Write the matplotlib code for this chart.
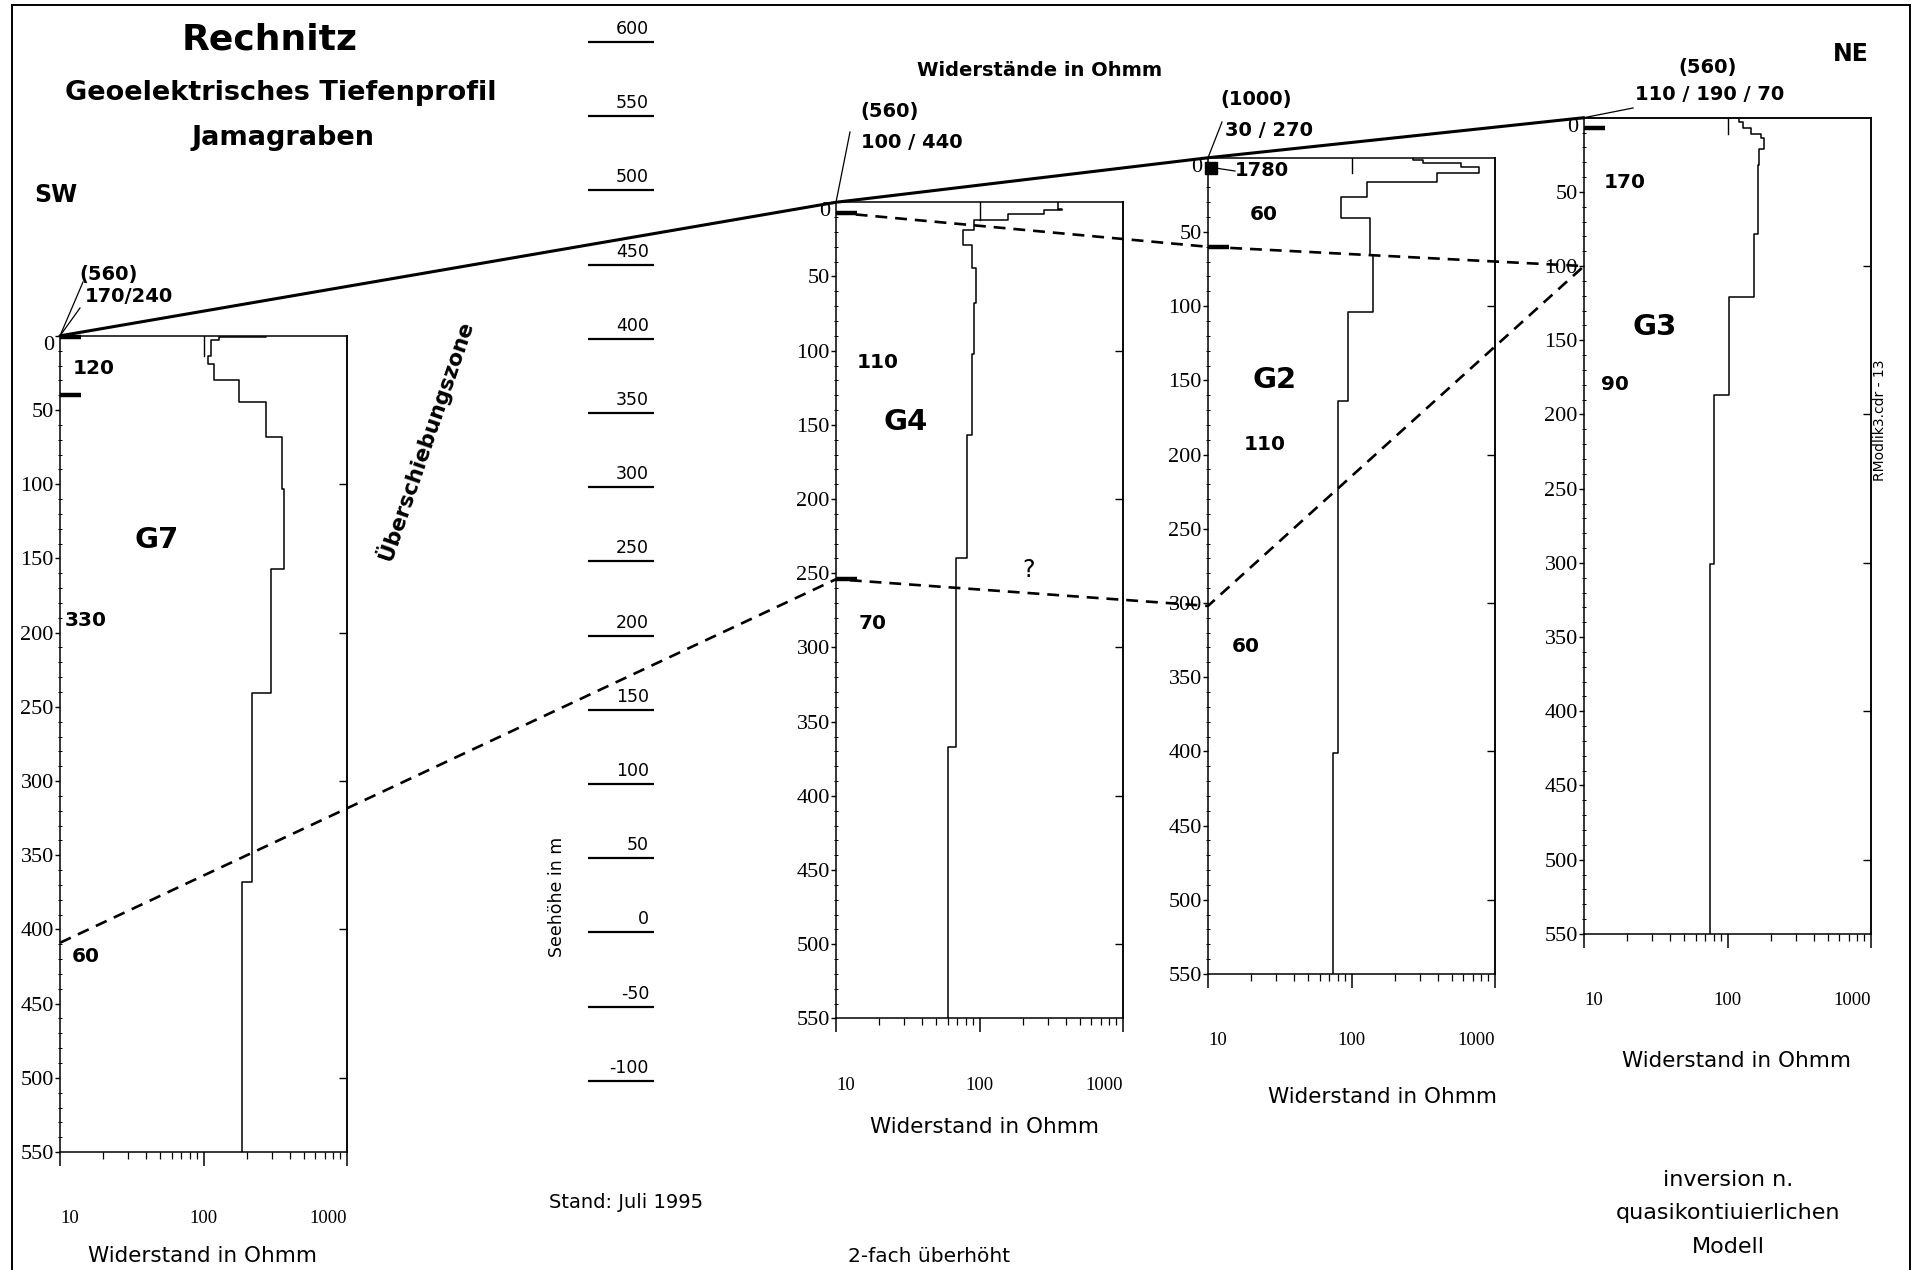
import numpy as np
import matplotlib
matplotlib.use("Agg")
import matplotlib.pyplot as plt
from matplotlib.ticker import LogLocator, MultipleLocator, NullFormatter, FixedLocator
from matplotlib.patches import Rectangle

plt.rcParams['font.family'] = ['DejaVu Sans']

stations = ['G7', 'G4', 'G2', 'G3']
station_elev = [402, 492, 522, 549]          # Seehöhe of sounding point (m)

# layer interfaces (depth m) and resistivities (Ohmm) per sounding
g7_bounds = [1, 3, 13.5, 19, 30, 44.5, 68, 103, 157, 241, 368]
g7_res = [274, 129, 112, 108, 119, 178, 274, 354, 365, 297, 219, 184]
g4_bounds = [4.3, 5.4, 7.6, 12.2, 19, 28.6, 44, 68, 102, 157, 240, 367]
g4_res = [351, 375, 280, 157, 91, 77, 89, 94, 91, 89, 82, 69, 60]
g2_bounds = [1.4, 3.4, 6.1, 10.2, 16.3, 26.5, 40.8, 65.3, 104, 164, 401]
g2_res = [270, 314, 578, 773, 393, 129, 85, 134, 142, 94, 81, 74]
g3_bounds = [2.7, 6.7, 10.7, 13.4, 21, 32, 78.5, 121, 187, 301]
g3_res = [121, 129, 145, 170, 179, 165, 162, 154, 102, 81, 76]

bounds_all = [g7_bounds, g4_bounds, g2_bounds, g3_bounds]
res_all = [g7_res, g4_res, g2_res, g3_res]
start_mark = [13.5, 12, 10, 11]               # short vertical at 100 Ohmm
bar_depths = [[0.5, 40], [7, 254], [60], [7]]  # marked layer boundaries

# correlation lines (depth below each station)
upper_st = [1, 2, 3]
upper_depth = [7, 60, 100]
lower_st = [0, 1, 2, 3]
lower_depth = [409, 254, 302, 100]

scale_elev = [600, 550, 500, 450, 400, 350, 300, 250, 200, 150, 100, 50, 0, -50, -100]

head_top = ['(560)', '(560)', '(1000)', '(560)']
head_bot = ['170/240', '100 / 440', '30 / 270', '110 / 190 / 70']

# ---- layout ----
W, H = 1917, 1270
PX_PER_M = 1.484
ELEV_TOP = 600 + 42 / PX_PER_M
DEPTH_MAX = 550
panel_left = [60, 836, 1208, 1584]
PANEL_W = 287


def y2e(y):
    return ELEV_TOP - y / PX_PER_M


fig = plt.figure(figsize=(W / 100, H / 100), dpi=100)
bg = fig.add_axes([0, 0, 1, 1])
bg.set_xlim(0, W)
bg.set_ylim(y2e(H), ELEV_TOP)
bg.axis('off')

fig.add_artist(Rectangle((12 / W, -0.01), (1910 - 12) / W, 1.01 - 5 / H,
                         transform=fig.transFigure, fill=False, lw=1.4, color='k'))

tickfont = 'Liberation Serif'
panels = []
for i, name in enumerate(stations):
    top_px = (ELEV_TOP - station_elev[i]) * PX_PER_M
    h_px = DEPTH_MAX * PX_PER_M
    ax = fig.add_axes([panel_left[i] / W, 1 - (top_px + h_px) / H, PANEL_W / W, h_px / H])
    ax.set_xscale('log')
    ax.set_xlim(10, 1000)
    ax.set_ylim(DEPTH_MAX, 0)
    ax.patch.set_alpha(0)

    b = np.array(bounds_all[i])
    tops = np.r_[0, b]
    bots = np.r_[b, DEPTH_MAX]
    d = np.column_stack([tops, bots]).ravel()
    r = np.repeat(res_all[i], 2)
    ax.plot(r, d, color='k', lw=1.1)
    ax.plot([100, 100], [0, start_mark[i]], color='k', lw=1.0)
    for bd in bar_depths[i]:
        ax.plot([10, 14], [bd, bd], color='k', lw=3.2, solid_capstyle='butt', clip_on=False)

    for s in ax.spines.values():
        s.set_linewidth(1.1)
    ax.xaxis.set_major_locator(FixedLocator([10, 100, 1000]))
    ax.xaxis.set_minor_locator(LogLocator(subs=range(2, 10)))
    ax.xaxis.set_minor_formatter(NullFormatter())
    ax.set_xticklabels(['10', '100', '1000'], family=tickfont, fontsize=13.5)
    xl = ax.get_xticklabels()
    xl[0].set_ha('left')
    xl[2].set_ha('right')
    ax.tick_params(axis='x', which='major', direction='out', length=10, width=1.1, pad=32)
    ax.tick_params(axis='x', which='minor', direction='out', length=5, width=0.9)
    ax.yaxis.set_major_locator(MultipleLocator(50))
    ax.yaxis.set_minor_locator(MultipleLocator(10))
    ax.set_yticks(np.arange(0, 551, 50))
    ax.set_yticklabels([str(v) for v in range(0, 551, 50)], family=tickfont, fontsize=16)
    ax.get_yticklabels()[0].set_va('top')
    ax.tick_params(axis='y', which='major', direction='out', length=3.5, width=1, pad=1)
    ax.tick_params(axis='y', which='minor', direction='inout', length=2.5, width=0.7)
    sec = ax.secondary_yaxis('right')
    sec.set_yticks(np.arange(100, 551, 100))
    sec.tick_params(direction='in', length=6, width=1, labelright=False)
    sec.spines['right'].set_linewidth(1.1)
    panels.append(ax)

# topography line through sounding points
bg.plot(panel_left, station_elev, color='k', lw=2.2, solid_capstyle='round')
bg.plot([panel_left[3], panel_left[3] + PANEL_W], [station_elev[3]] * 2, color='k', lw=1.1)

# correlation lines
ux = [panel_left[s] for s in upper_st]
uy = [station_elev[s] - dd for s, dd in zip(upper_st, upper_depth)]
bg.plot(ux, uy, color='k', lw=1.9, dashes=(4.5, 3))
lx = [panel_left[s] for s in lower_st]
ly = [station_elev[s] - dd for s, dd in zip(lower_st, lower_depth)]
bg.plot(lx, ly, color='k', lw=1.9, dashes=(4.5, 3))

# elevation scale
bg.hlines(scale_elev, 588, 654, color='k', lw=1.6)
for e in scale_elev:
    bg.text(649, e + 4 / PX_PER_M, str(e), ha='right', va='bottom', fontsize=12.5)
bg.text(557, y2e(897), 'Seehöhe in m', rotation=90, ha='center', va='center', fontsize=12.5)


def t(x, y, s, **kw):
    kw.setdefault('ha', 'center')
    kw.setdefault('va', 'center')
    return bg.text(x, y2e(y), s, **kw)


# titles
t(270, 39, 'Rechnitz', fontsize=26, fontweight='bold')
t(281, 93, 'Geoelektrisches Tiefenprofil', fontsize=19.5, fontweight='bold')
t(283, 138, 'Jamagraben', fontsize=19.5, fontweight='bold')
t(56, 195, 'SW', fontsize=17, fontweight='bold')
t(1851, 54, 'NE', fontsize=17, fontweight='bold')
t(1040, 71, 'Widerstände in Ohmm', fontsize=14, fontweight='bold')

# station heads and leaders
head_pos = [((109, 275), (129, 296)), ((890, 112), (912, 142)),
            ((1256, 100), (1269, 130)), ((1708, 67), (1710, 95))]
for i in range(4):
    (x1, y1), (x2, y2) = head_pos[i]
    t(x1, y1, head_top[i], fontsize=14, fontweight='bold')
    t(x2, y2, head_bot[i], fontsize=14, fontweight='bold')
leaders = [(83, 282, 0), (80, 308, 0), (850, 132, 1), (1222, 122, 2), (1633, 108, 3)]
for x0, y0, s in leaders:
    bg.plot([x0, panel_left[s]], [y2e(y0), station_elev[s]], color='k', lw=0.9)

# G2 surface value
bg.plot([panel_left[2] + 3], [station_elev[2] - 7], marker='s', ms=8, color='k')
bg.plot([panel_left[2] + 8, 1235], [station_elev[2] - 7, y2e(171)], color='k', lw=0.9)
t(1262, 171, '1780', fontsize=14, fontweight='bold')

# layer resistivities
for x, y, s in [(94, 369, '120'), (86, 621, '330'), (86, 956, '60'),
                (878, 363, '110'), (873, 624, '70'),
                (1264, 214, '60'), (1265, 445, '110'), (1246, 646, '60'),
                (1625, 183, '170'), (1615, 385, '90')]:
    t(x, y, s, fontsize=14.5, fontweight='bold')
for x, y, s in [(157, 540, 'G7'), (906, 422, 'G4'), (1275, 380, 'G2'), (1655, 327, 'G3')]:
    t(x, y, s, fontsize=21, fontweight='bold')
t(1029, 570, '?', fontsize=17)

t(425, 440, 'Überschiebungszone', fontsize=15.5, fontweight='bold', rotation=71)
t(1880, 420, 'RModlik3.cdr - 13', fontsize=10, rotation=90)

for x, y in [(202, 1256), (985, 1127), (1382, 1097), (1736, 1061)]:
    t(x, y, 'Widerstand in Ohmm', fontsize=15.5)

t(626, 1202, 'Stand: Juli 1995', fontsize=14)
t(929, 1256, '2-fach überhöht', fontsize=14.5)
t(1728, 1180, 'inversion n.', fontsize=16)
t(1728, 1213, 'quasikontiuierlichen', fontsize=16)
t(1728, 1247, 'Modell', fontsize=16)

fig.savefig('out.png', dpi=100)
